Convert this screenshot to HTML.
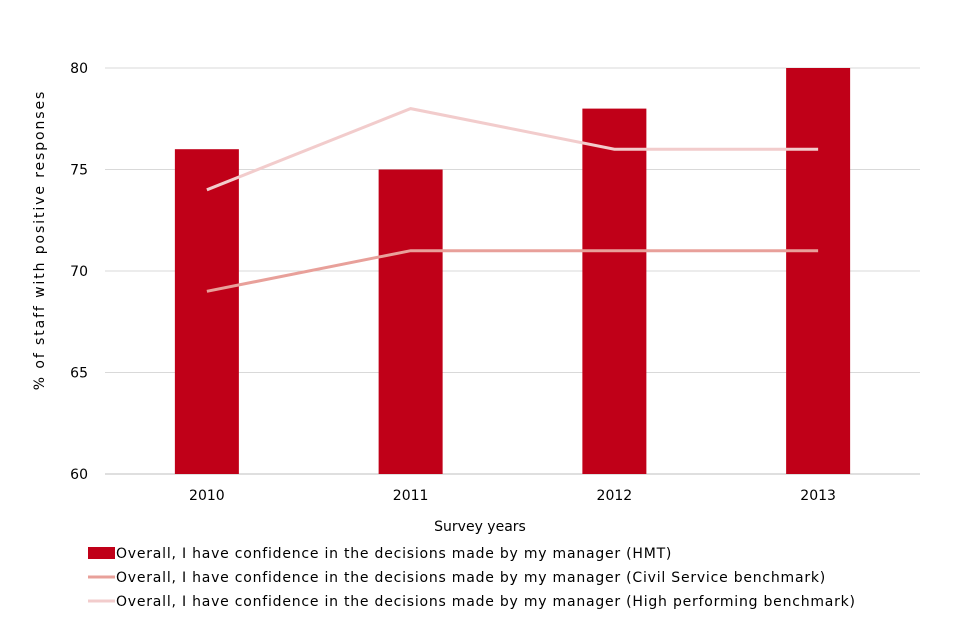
<!DOCTYPE html>
<html><head><meta charset="utf-8"><style>
body{margin:0;background:#fff;font-family:"DejaVu Sans","Liberation Sans",sans-serif;}
svg text{font-family:"DejaVu Sans","Liberation Sans",sans-serif;fill:#000;}
</style></head><body>
<svg id="chart" width="960" height="640">
<g id="grid"></g><g id="bars"></g><g id="lines"></g><g id="xlabels"></g><g id="ylabels"></g>
<text x="480" y="531" font-size="14" text-anchor="middle">Survey years</text>
<text transform="translate(44,240) rotate(-90)" font-size="14" letter-spacing="1.9" text-anchor="middle">% of staff with positive responses</text>
<g font-size="14" letter-spacing="0.78">
<g><rect x="88" y="547" width="27" height="12" fill="#c00018"/><text x="116" y="558">Overall, I have confidence in the decisions made by my manager (HMT)</text></g>
<g><line x1="88" y1="577" x2="115" y2="577" stroke="#e8a09a" stroke-width="3"/><text x="116" y="582">Overall, I have confidence in the decisions made by my manager (Civil Service benchmark)</text></g>
<g><line x1="88" y1="601" x2="115" y2="601" stroke="#f2cccc" stroke-width="3"/><text x="116" y="606">Overall, I have confidence in the decisions made by my manager (High performing benchmark)</text></g>
</g>
</svg>
<script>
const categories=["2010","2011","2012","2013"];
const hmtValues=[76,75,78,80];
const civilValues=[69,71,71,71];
const highValues=[74,78,76,76];
const yTicks=[60,65,70,75,80];
const NS="http://www.w3.org/2000/svg";
const x0=105,x1=920,yMin=60,yMax=80,py0=474,py1=68;
const band=(x1-x0)/categories.length;
const xc=i=>x0+band*(i+0.5);
const y=v=>py0-(v-yMin)/(yMax-yMin)*(py0-py1);
function mk(t,a,p){const e=document.createElementNS(NS,t);for(const k in a)e.setAttribute(k,a[k]);document.getElementById(p).appendChild(e);return e;}
yTicks.forEach(v=>{
 const l=mk("line",{x1:x0,x2:x1,y1:y(v),y2:y(v),stroke:v===yMin?"#bfbfbf":"#d9d9d9","stroke-width":1},"grid");
 
 
 const t=mk("text",{x:88,y:y(v)+5,"font-size":14,"text-anchor":"end"},"ylabels");t.textContent=v;
 
 
});
categories.forEach((c,i)=>{
 const b=mk("rect",{x:xc(i)-32,width:64,y:y(hmtValues[i]),height:py0-y(hmtValues[i]),fill:"#c00018"},"bars");
 
 
 const t=mk("text",{x:xc(i),y:y(yMin)+26,"font-size":14,"text-anchor":"middle"},"xlabels");t.textContent=c;
 
 
});
function line(vals,col,name){
 const p=mk("polyline",{points:vals.map((v,i)=>xc(i)+","+y(v)).join(" "),fill:"none",stroke:col,"stroke-width":3},"lines");
 
 
}
line(civilValues,"#e8a09a","civil-service-line");
line(highValues,"#f2cccc","high-performing-line");
</script>
</body></html>
